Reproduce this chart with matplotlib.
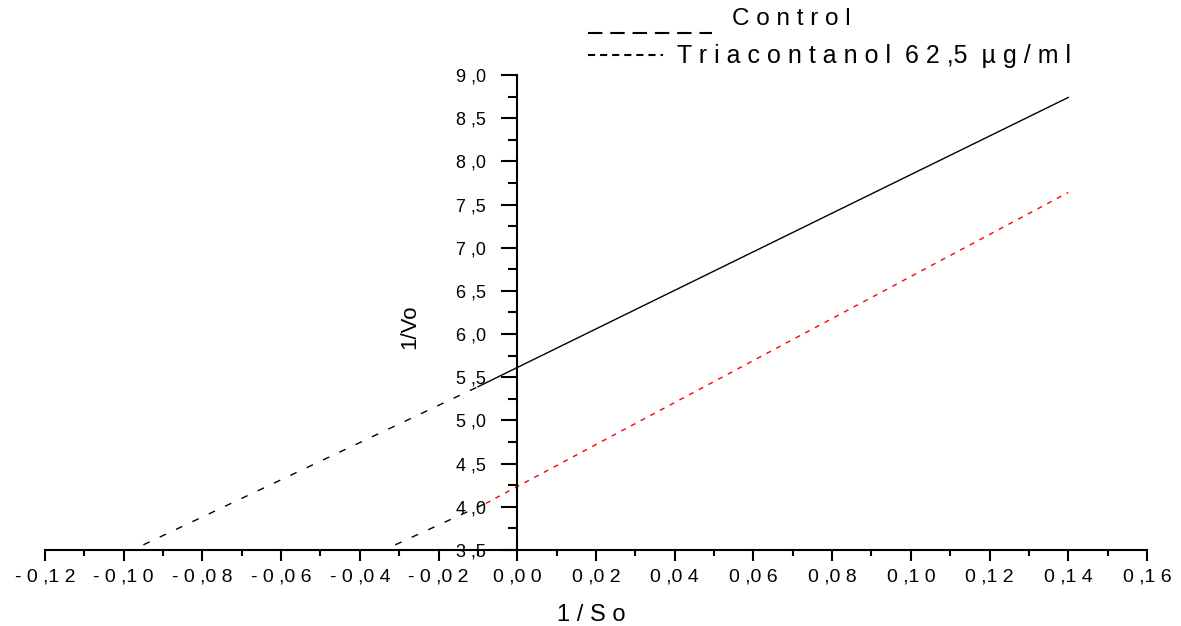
import matplotlib.pyplot as plt
from matplotlib.ticker import FixedLocator, FixedFormatter, MultipleLocator

plt.rcParams["font.family"] = ["Liberation Sans", "DejaVu Sans"]

# Lineweaver-Burk data
control_x = [-0.010, 0.140]
control_y = [5.39, 8.74]
control_ext_x = [-0.095, -0.010]
control_ext_y = [3.56, 5.39]

tria_x = [-0.008, 0.140]
tria_y = [4.04, 7.64]
tria_ext_x = [-0.031, -0.008]
tria_ext_y = [3.56, 4.04]

x_ticks = [-0.12, -0.10, -0.08, -0.06, -0.04, -0.02, 0.00, 0.02, 0.04, 0.06, 0.08, 0.10, 0.12, 0.14, 0.16]
x_labels = ["- 0 ,1 2", "- 0 ,1 0", "- 0 ,0 8", "- 0 ,0 6", "- 0 ,0 4", "- 0 ,0 2", "0 ,0 0",
            "0 ,0 2", "0 ,0 4", "0 ,0 6", "0 ,0 8", "0 ,1 0", "0 ,1 2", "0 ,1 4", "0 ,1 6"]
y_ticks = [3.5, 4.0, 4.5, 5.0, 5.5, 6.0, 6.5, 7.0, 7.5, 8.0, 8.5, 9.0]
y_labels = ["3 ,5", "4 ,0", "4 ,5", "5 ,0", "5 ,5", "6 ,0", "6 ,5", "7 ,0", "7 ,5", "8 ,0", "8 ,5", "9 ,0"]

fig = plt.figure(figsize=(11.81, 6.26), dpi=100)
ax = fig.add_axes([0.0381, 0.1214, 0.9331, 0.7588])

ax.plot(control_x, control_y, color="black", lw=1.0)
ax.plot(control_ext_x, control_ext_y, color="black", lw=1.0, dashes=(5, 8))
ax.plot(tria_x, tria_y, color="red", lw=1.0, dashes=(3.6, 4.3))
ax.plot(tria_ext_x, tria_ext_y, color="black", lw=1.0, dashes=(5, 8))

ax.set_xlim(-0.12, 0.16)
ax.set_ylim(3.5, 9.0)

# axes through the origin like in Origin
ax.spines["left"].set_position(("data", 0))
ax.spines["bottom"].set_position(("data", 3.5))
ax.spines["right"].set_visible(False)
ax.spines["top"].set_visible(False)
for s in ("left", "bottom"):
    ax.spines[s].set_linewidth(1.5)

ax.xaxis.set_major_locator(FixedLocator(x_ticks))
ax.xaxis.set_major_formatter(FixedFormatter(x_labels))
ax.xaxis.set_minor_locator(MultipleLocator(0.01))
ax.yaxis.set_major_locator(FixedLocator(y_ticks))
ax.yaxis.set_major_formatter(FixedFormatter(y_labels))
ax.yaxis.set_minor_locator(MultipleLocator(0.25))

ax.tick_params(axis="x", which="major", direction="out", length=8, width=1.5, labelsize=14, pad=5)
ax.tick_params(axis="x", which="minor", direction="out", length=4.3, width=1.5)
ax.tick_params(axis="y", which="major", direction="out", length=11.5, width=1.5, labelsize=13, pad=11)
ax.tick_params(axis="y", which="minor", direction="out", length=6.5, width=1.5)

ax.set_xlabel("1 / S o", fontsize=17)
ax.xaxis.set_label_coords(0.4955, -0.113)
ax.text(-0.0272, 6.09, "1/Vo", rotation=90, fontsize=16, ha="center", va="center")

# legend drawn like the original
fig.lines.append(plt.Line2D([588 / 1181, 712 / 1181], [1 - 33 / 626, 1 - 33 / 626],
                            transform=fig.transFigure, color="black", lw=1.5, dashes=(6.9, 3.8)))
fig.text(732 / 1181, 1 - 19 / 626, "C o n t r o l", fontsize=17.5, va="center")
fig.lines.append(plt.Line2D([588 / 1181, 663 / 1181], [1 - 55 / 626, 1 - 55 / 626],
                            transform=fig.transFigure, color="black", lw=1.5, dashes=(3.4, 2.4)))
fig.text(677 / 1181, 1 - 56 / 626, "T r i a c o n t a n o l  6 2 ,5  µ g / m l", fontsize=18, va="center")

fig.savefig("out.png", dpi=100)
